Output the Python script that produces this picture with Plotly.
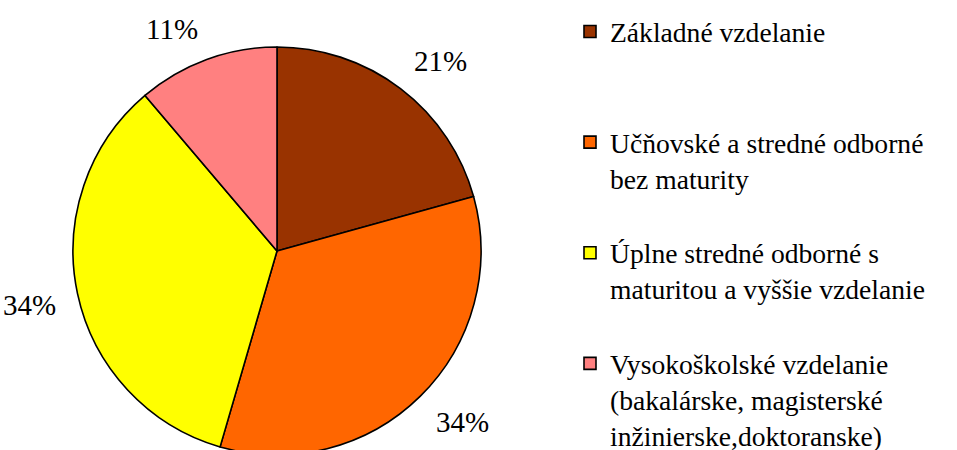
import math
import plotly.graph_objects as go

categories = [
    "Základné vzdelanie",
    "Učňovské a stredné odborné<br>bez maturity",
    "Úplne stredné odborné s<br>maturitou a vyššie vzdelanie",
    "Vysokoškolské vzdelanie<br>(bakalárske, magisterské<br>inžinierske,doktoranske)",
]
values = [20.7, 33.8, 34.3, 11.2]
colors = ["#993300", "#FF6600", "#FFFF00", "#FF8080"]

# pad legend entries so each occupies an equal slot, as in the original
pad = ["<br> <br> ", "<br> ", "<br> ", ""]
legend_labels = [c + p for c, p in zip(categories, pad)]

FONT = "Liberation Serif"
W, H = 957, 455
MT, MB = 47, 0
dom_x = [73 / W, 481 / W]
dom_y = [0, 1]

fig = go.Figure(
    go.Pie(
        labels=legend_labels,
        values=values,
        sort=False,
        direction="clockwise",
        rotation=0,
        marker=dict(colors=colors, line=dict(color="black", width=1.6)),
        textinfo="none",
        hoverinfo="label+percent",
        domain=dict(x=dom_x, y=dom_y),
    )
)

# percentage labels placed just outside each slice at its mid angle
plot_h = H - MT - MB
cx_px = (dom_x[0] + dom_x[1]) / 2 * W
cy_px = MT + (1 - (dom_y[0] + dom_y[1]) / 2) * plot_h
r_px = min((dom_x[1] - dom_x[0]) * W, (dom_y[1] - dom_y[0]) * plot_h) / 2
r_anchor = r_px * 1.103
half_w, half_h = 27, 11


def clip(t):
    return max(-1.0, min(1.0, t))


total = sum(values)
cum = 0.0
for v in values:
    mid = (cum + v / 2) / total * 2 * math.pi
    cum += v
    s, c = math.sin(mid), math.cos(mid)
    px = cx_px + r_anchor * s + half_w * clip(3 * s)
    py = cy_px - r_anchor * c - half_h * clip(3 * c)
    fig.add_annotation(
        x=px / W,
        y=(H - MB - py) / plot_h,
        xref="paper",
        yref="paper",
        text=f"{round(v / total * 100):.0f}%",
        showarrow=False,
        xanchor="center",
        yanchor="middle",
        font=dict(family=FONT, size=29, color="black"),
    )

fig.update_layout(
    width=W,
    height=H,
    margin=dict(l=0, r=0, t=MT, b=MB, autoexpand=False),
    paper_bgcolor="white",
    plot_bgcolor="white",
    font=dict(family=FONT, size=27.6, color="black"),
    legend=dict(
        x=570 / W,
        y=1 + (MT - 7) / plot_h,
        xanchor="left",
        yanchor="top",
        valign="top",
        maxheight=700,
        font=dict(family=FONT, size=27.6, color="black"),
        bgcolor="rgba(0,0,0,0)",
    ),
    showlegend=True,
)

fig.write_html(
    "out.html",
    config={"displayModeBar": False},
    post_script="document.body.style.margin='0';"
    "document.documentElement.style.overflow='hidden';",
)
